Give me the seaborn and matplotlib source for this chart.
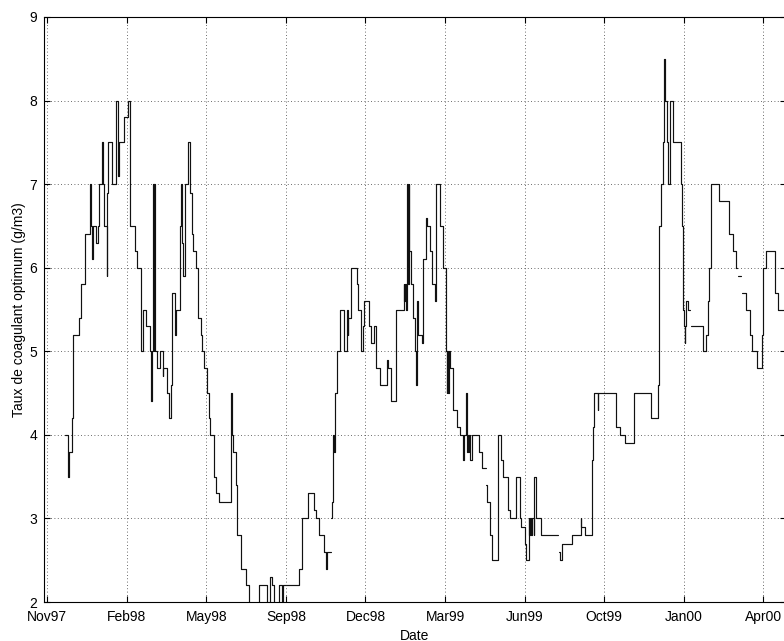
import numpy as np
import pandas as pd
import matplotlib
matplotlib.use("Agg")
import matplotlib.pyplot as plt
import seaborn as sns

nan = np.nan

# Day of each change of the optimum coagulant rate, counted from 15 Nov 1997
days = [22, 25, 26, 27, 30, 32, 39, 41, 46, 53, 54, 55, 56, 60, 63, 64, 67, 69, 70, 73,
        74, 75, 80, 85, 87, 89, 94, 99, 100, 102, 108, 111, 115, 118, 122, 126, 128, 129, 130, 131,
        132, 133, 135, 139, 142, 143, 148, 150, 153, 154, 157, 159, 163, 165, 166, 167, 170, 173, 176, 178,
        180, 183, 186, 189, 191, 193, 197, 199, 201, 205, 208, 211, 226, 227, 229, 232, 234, 239, 245, 248,
        261, 271, 275, 277, 279, 285, 289, 291, 310, 314, 321, 329, 331, 335, 341, 343, 344, 349, 350, 351,
        352, 353, 354, 355, 357, 360, 365, 369, 370, 371, 374, 381, 383, 386, 389, 390, 396, 399, 402, 405,
        410, 418, 420, 424, 430, 439, 440, 441, 442, 443, 444, 445, 446, 448, 450, 453, 454, 455, 457, 462,
        463, 466, 468, 472, 474, 478, 479, 484, 488, 491, 492, 493, 494, 495, 496, 500, 505, 508, 512, 513,
        516, 517, 518, 519, 520, 521, 523, 532, 535, 540, 541, 542, 545, 548, 555, 559, 561, 568, 570, 577,
        582, 584, 588, 590, 593, 594, 595, 596, 597, 599, 600, 602, 608, 629, 630, 631, 634, 646, 657, 658,
        662, 671, 672, 673, 678, 679, 700, 706, 712, 723, 744, 752, 754, 756, 758, 760, 761, 763, 765, 767,
        771, 781, 782, 783, 784, 785, 786, 787, 789, 792, 793, 808, 811, 814, 815, 817, 827, 840, 845, 849,
        850, 851, 855, 856, 861, 866, 868, 874, 880, 882, 885, 897, 900, 911]

# Optimum coagulant rate (g/m3) from each of those days on; nan = no measurement
taux = [4.0, 3.8, 3.5, 3.8, 4.2, 5.2, 5.4, 5.8, 6.4, 7.0, 6.5, 6.1, 6.5, 6.3, 6.5, 7.0, 7.5, 7.0, 6.5, 5.9,
        6.9, 7.5, 7.0, 8.0, 7.1, 7.5, 7.8, 7.9, 8.0, 6.5, 6.2, 6.0, 5.0, 5.5, 5.3, 5.0, 4.4, 5.0, 7.0, 5.0,
        7.0, 5.0, 4.8, 5.0, 4.7, 4.8, 4.5, 4.2, 4.6, 5.7, 5.2, 5.5, 6.5, 7.0, 6.3, 5.9, 7.0, 7.5, 6.9, 6.4,
        6.2, 6.0, 5.4, 5.2, 5.0, 4.8, 4.5, 4.2, 4.0, 3.5, 3.3, 3.2, 4.5, 4.0, 3.8, 3.4, 2.8, 2.4, 2.2, 1.9,
        2.2, 1.9, 2.3, 2.2, 1.9, 2.2, 1.9, 2.2, 2.4, 3.0, 3.3, 3.1, 3.0, 2.8, 2.6, 2.4, 2.6, nan, 3.0, 3.2,
        4.0, 3.8, 4.0, 4.5, 5.0, 5.5, 5.0, 5.5, 5.2, 5.4, 6.0, 5.8, 5.5, 5.0, 5.3, 5.6, 5.3, 5.1, 5.3, 4.8,
        4.6, 4.9, 4.8, 4.4, 5.5, 5.8, 5.6, 5.8, 5.5, 7.0, 5.8, 7.0, 6.2, 5.8, 5.4, 5.0, 4.6, 5.6, 5.2, 5.1,
        6.1, 6.6, 6.5, 6.2, 5.8, 5.6, 7.0, 6.5, 6.0, 5.0, 4.5, 5.0, 4.5, 5.0, 4.8, 4.3, 4.1, 4.0, 3.7, 4.0,
        4.5, 3.8, 4.0, 3.8, 4.0, 3.7, 4.0, 3.8, 3.6, nan, 3.4, 3.2, 2.8, 2.5, 4.0, 3.7, 3.5, 3.1, 3.0, 3.5,
        3.0, 2.9, 2.7, 2.5, 3.0, 2.8, 3.0, 2.8, 3.0, 2.8, 3.5, 3.0, 2.8, nan, 2.6, 2.5, 2.7, 2.8, 3.0, 2.9,
        2.8, 3.7, 4.1, 4.5, 4.3, 4.5, 4.1, 4.0, 3.9, 4.5, 4.2, 4.6, 6.5, 7.0, 7.5, 8.5, 8.0, 7.5, 7.0, 8.0,
        7.5, 7.0, 6.5, 5.5, 5.3, 5.1, 5.3, 5.6, 5.5, nan, 5.3, 5.0, 5.2, 5.6, 6.0, 7.0, 6.8, 6.4, 6.2, 6.0,
        nan, 5.9, nan, 5.7, 5.5, 5.2, 5.0, 4.8, 5.2, 6.0, 6.2, 5.7, 5.5, 5.5]

tick_step_days = 98
n_ticks = 10

t0 = pd.Timestamp("1997-11-15")
df = pd.DataFrame({"date": t0 + pd.to_timedelta(days, unit="D"), "taux": taux})

# Split the record into continuous pieces; a missing value closes the
# current piece, which keeps its last level up to that day.
gap = df["taux"].isna()
df["piece"] = gap.cumsum()
df.loc[gap, "piece"] -= 1
df["taux"] = df["taux"].ffill()

sns.set_theme(style="white")
plt.rcParams["font.family"] = ["Liberation Sans", "DejaVu Sans"]

fig = plt.figure(figsize=(7.84, 6.41), dpi=100)
ax = fig.add_axes([44 / 784, 39 / 641, 742 / 784, 585 / 641])

sns.lineplot(data=df, x="date", y="taux", units="piece", estimator=None,
             drawstyle="steps-post", sort=False, color="#111111", lw=0.85, ax=ax,
             legend=False)

ticks = [t0 + pd.Timedelta(days=tick_step_days * k) for k in range(n_ticks)]
ax.set_xticks(ticks)
ax.set_xticklabels([t.strftime("%b%y") for t in ticks])
ax.set_xlim(t0 - pd.Timedelta(days=4), t0 + pd.Timedelta(days=910))
ax.set_ylim(2, 9)
ax.set_yticks(range(2, 10))

ax.grid(True, which="major", color="#3a3a3a", linestyle=(0, (1, 3)), linewidth=0.6)
for s in ax.spines.values():
    s.set_visible(True)
    s.set_color("black")
    s.set_linewidth(0.8)

ax.tick_params(axis="both", direction="in", length=4.5, width=0.8, color="black",
               top=True, right=True, bottom=True, left=True, labelsize=10,
               labelcolor="black")
ax.tick_params(axis="x", pad=6)
ax.tick_params(axis="y", pad=5)

ax.set_xlabel("Date", fontsize=10, color="black", labelpad=3)
ax.set_ylabel("Taux de coagulant optimum (g/m3)", fontsize=10, color="black", labelpad=2)

fig.savefig("out.png", dpi=100)
